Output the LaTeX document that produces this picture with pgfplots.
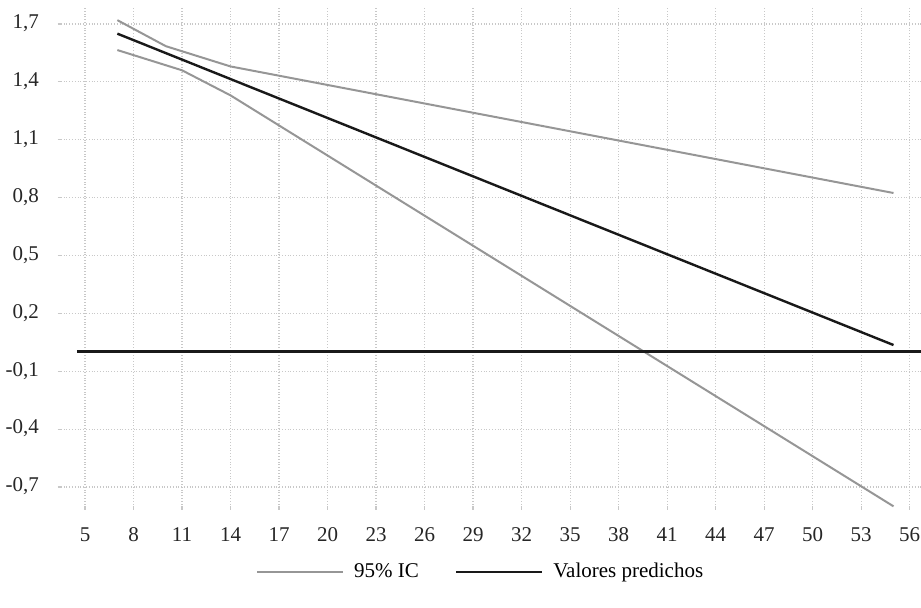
\documentclass[border=0pt]{standalone}
\usepackage{pgfplots}
\pgfplotsset{compat=1.18}
\usepackage{fontspec}
\setmainfont{Liberation Serif}
\definecolor{cigray}{RGB}{150,150,150}
\definecolor{predblack}{RGB}{25,25,25}
\definecolor{gridc}{RGB}{200,200,200}
\begin{document}
\fontsize{10}{12}\selectfont
\begin{tikzpicture}
\begin{axis}[
  name=ax,
  scale only axis,
  width=431.5pt, height=251pt,
  xmin=3.33, xmax=56.7,
  ymin=-0.819, ymax=1.783,
  xtick={5,8,...,56},
  ytick={-0.7,-0.4,-0.1,0.2,0.5,0.8,1.1,1.4,1.7},
  axis line style={draw=none},
  grid=major,
  major grid style={densely dotted, gridc, line width=0.6pt},
  tick style={gridc, line width=0.6pt},
  major tick length=2pt,
  tick align=inside,
  xtick pos=bottom, ytick pos=left,
  yticklabel style={/pgf/number format/.cd, fixed, fixed zerofill, precision=1, use comma, assume math mode=true},
  xticklabel style={/pgf/number format/assume math mode=true, anchor=base, yshift=-10pt},
  typeset ticklabels with strut,
  ticklabel style={font=\fontsize{10.5}{12}\selectfont, text=black!85},
  xticklabel shift=6pt,
  yticklabel shift=6pt,
  legend style={at={(0.491,-0.1235)}, anchor=center, draw=none, fill=none,
    legend columns=2, font=\fontsize{10.5}{12}\selectfont,
    /tikz/every odd column/.append style={column sep=3pt},
    /tikz/every even column/.append style={column sep=16pt}},
  legend image code/.code={\draw[#1] (0pt,0pt) -- (43pt,0pt);},
]
\addplot[cigray, line width=1pt] coordinates {(7,1.72) (10,1.585) (14,1.48) (55,0.824)};
\addlegendentry{95\% IC}
\addplot[cigray, line width=1pt, forget plot] coordinates {(7,1.565) (11,1.46) (14,1.33) (55,-0.80)};
\addplot[predblack, line width=1.2pt] coordinates {(7,1.65) (55,0.036)};
\addlegendentry{Valores predichos}
\addplot[predblack, line width=1.5pt, forget plot] coordinates {(4.5,0) (56.7,0)};
\end{axis}
\pgfresetboundingbox
\path[use as bounding box] ([xshift=-29pt,yshift=-49pt]ax.south west) rectangle ([yshift=4pt]ax.north east);
\end{tikzpicture}
\end{document}
